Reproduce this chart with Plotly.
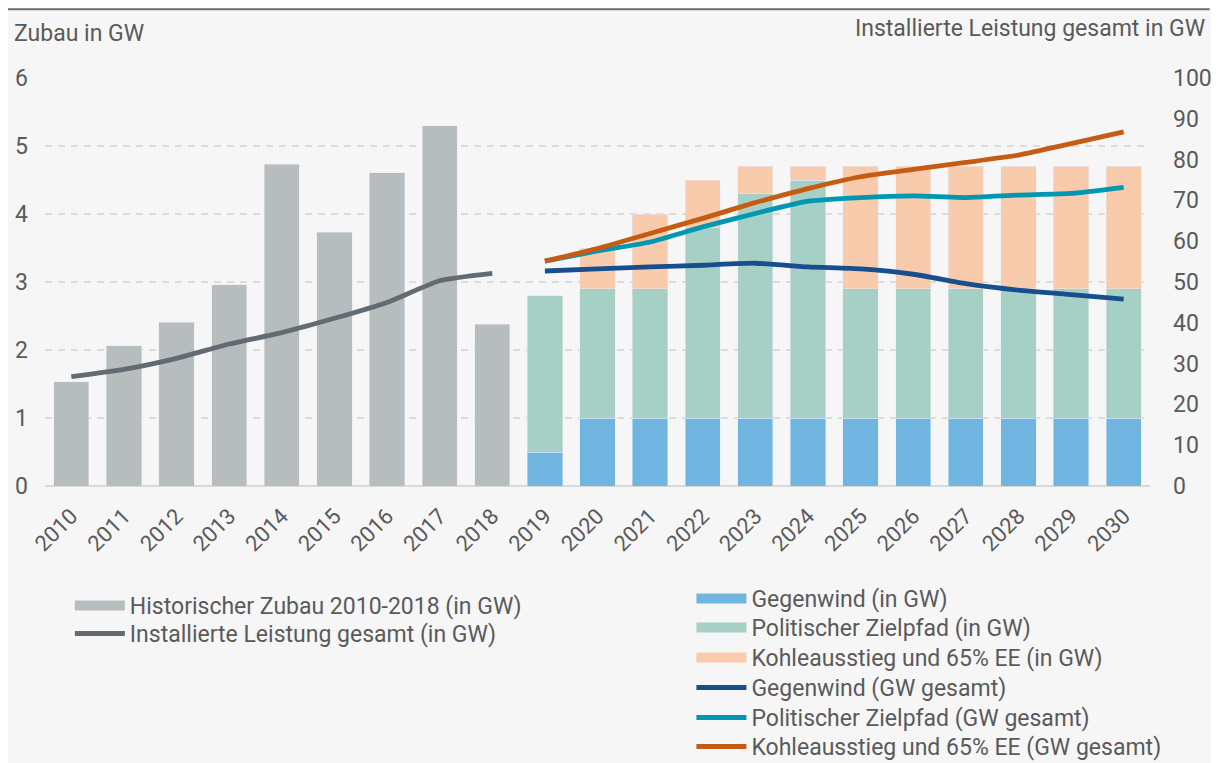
import plotly.graph_objects as go

years = [str(y) for y in range(2010, 2031)]
hist_years = years[:9]
future_years = years[9:]

hist_zubau = [1.53, 2.06, 2.41, 2.96, 4.73, 3.73, 4.61, 5.30, 2.38]
hist_total = [26.8, 28.6, 31.3, 34.8, 37.6, 41.1, 45.0, 50.3, 52.1]

gegenwind_bar = [0.5, 1.0, 1.0, 1.0, 1.0, 1.0, 1.0, 1.0, 1.0, 1.0, 1.0, 1.0]
zielpfad_bar = [2.3, 1.9, 1.9, 2.8, 3.3, 3.5, 1.9, 1.9, 1.9, 1.9, 1.9, 1.9]
kohle_bar = [0.0, 0.6, 1.1, 0.7, 0.4, 0.2, 1.8, 1.8, 1.8, 1.8, 1.8, 1.8]

gegenwind_total = [52.7, 53.2, 53.7, 54.1, 54.6, 53.7, 53.2, 51.9, 49.6, 48.0, 46.9, 45.8]
zielpfad_total = [55.1, 57.6, 59.8, 63.5, 66.8, 69.8, 70.7, 71.1, 70.7, 71.3, 71.7, 73.2]
kohle_total = [55.1, 58.2, 61.9, 65.6, 69.5, 72.9, 75.8, 77.6, 79.3, 81.1, 83.9, 86.8]

C_HIST = "#b7bcbf"
C_HIST_LINE = "#626a72"
C_GW = "#6fb5e0"
C_ZP = "#a6cfc6"
C_KA = "#f7cbab"
C_GW_L = "#174f8e"
C_ZP_L = "#0097b2"
C_KA_L = "#c65b13"
TXT = "#5a5a5a"
FONT = "Roboto, sans-serif"

fig = go.Figure()

# bars
fig.add_bar(x=hist_years, y=hist_zubau, marker_color=C_HIST, showlegend=False)
fig.add_bar(x=future_years, y=gegenwind_bar, marker_color=C_GW, showlegend=False)
fig.add_bar(x=future_years, y=zielpfad_bar, marker_color=C_ZP, showlegend=False)
fig.add_bar(x=future_years, y=kohle_bar, marker_color=C_KA, showlegend=False)

# lines on right axis
lw = 4.8
fig.add_scatter(x=hist_years, y=hist_total, yaxis="y2", mode="lines",
                line=dict(color=C_HIST_LINE, width=lw, shape="spline", smoothing=0.5), showlegend=False)
fig.add_scatter(x=future_years, y=gegenwind_total, yaxis="y2", mode="lines",
                line=dict(color=C_GW_L, width=lw, shape="spline", smoothing=0.5), showlegend=False)
fig.add_scatter(x=future_years, y=zielpfad_total, yaxis="y2", mode="lines",
                line=dict(color=C_ZP_L, width=lw, shape="spline", smoothing=0.5), showlegend=False)
fig.add_scatter(x=future_years, y=kohle_total, yaxis="y2", mode="lines",
                line=dict(color=C_KA_L, width=lw, shape="spline", smoothing=0.5), showlegend=False)

# legend entries: one legend box per entry so the row spacing can follow the reference
legend_items = [
    ("Historischer Zubau 2010-2018 (in GW)", C_HIST, 11, 0.0225, 0.2371),
    ("Installierte Leistung gesamt (in GW)", C_HIST_LINE, 5, 0.0225, 0.2000),
    ("Gegenwind (in GW)", C_GW, 11, 0.585, 0.2464),
    ("Politischer Zielpfad (in GW)", C_ZP, 11, 0.585, 0.2079),
    ("Kohleausstieg und 65% EE (in GW)", C_KA, 11, 0.585, 0.1682),
    ("Gegenwind (GW gesamt)", C_GW_L, 5, 0.585, 0.1285),
    ("Politischer Zielpfad (GW gesamt)", C_ZP_L, 5, 0.585, 0.0887),
    ("Kohleausstieg und 65% EE (GW gesamt)", C_KA_L, 5, 0.585, 0.0503),
]

legend_layouts = {}
for i, (name, color, width, lx, ly) in enumerate(legend_items):
    key = "legend" if i == 0 else f"legend{i + 1}"
    fig.add_scatter(x=[None], y=[None], mode="lines", name=name, legend=key,
                    line=dict(color=color, width=width))
    legend_layouts[key] = dict(x=lx, y=ly, xref="paper", yref="container",
                               xanchor="left", yanchor="top", bgcolor="rgba(0,0,0,0)",
                               itemwidth=50, font=dict(size=23, color=TXT))

fig.update_layout(
    width=1203, height=755,
    margin=dict(l=37, r=61, t=70, b=277, autoexpand=False),
    paper_bgcolor="#f6f6f6", plot_bgcolor="#f6f6f6",
    font=dict(family=FONT, size=23, color=TXT),
    barmode="stack", bargap=0.33,
    xaxis=dict(type="category", categoryorder="array", categoryarray=years,
               tickangle=-45, showgrid=False, showline=False, ticks="",
               ticklabelstandoff=12, tickfont=dict(size=22, color=TXT)),
    yaxis=dict(range=[0, 6], dtick=1, showgrid=True, gridcolor="#dcdcdc",
               griddash="7px,6px", gridwidth=1.5, zeroline=True, zerolinecolor="#d9d9d9",
               zerolinewidth=2, ticks="", ticklabelstandoff=16,
               tickfont=dict(size=23, color=TXT)),
    yaxis2=dict(range=[0, 100], dtick=10, overlaying="y", side="right",
                showgrid=False, zeroline=False, ticks="", ticklabelstandoff=22,
                tickfont=dict(size=23, color=TXT)),
    annotations=[
        dict(text="Zubau in GW", xref="paper", yref="paper", x=-0.03, y=1.11,
             xanchor="left", yanchor="middle", showarrow=False, font=dict(size=23, color=TXT)),
        dict(text="Installierte Leistung gesamt in GW", xref="paper", yref="paper",
             x=1.0516, y=1.1225, xanchor="right", yanchor="middle", showarrow=False,
             font=dict(size=23, color=TXT)),
    ],
    shapes=[dict(type="line", xref="paper", yref="paper", x0=-0.034, x1=1.054,
                 y0=1.1685, y1=1.1685, line=dict(color="#666d74", width=2))],
    **legend_layouts,
)

fig.write_html("out.html")
